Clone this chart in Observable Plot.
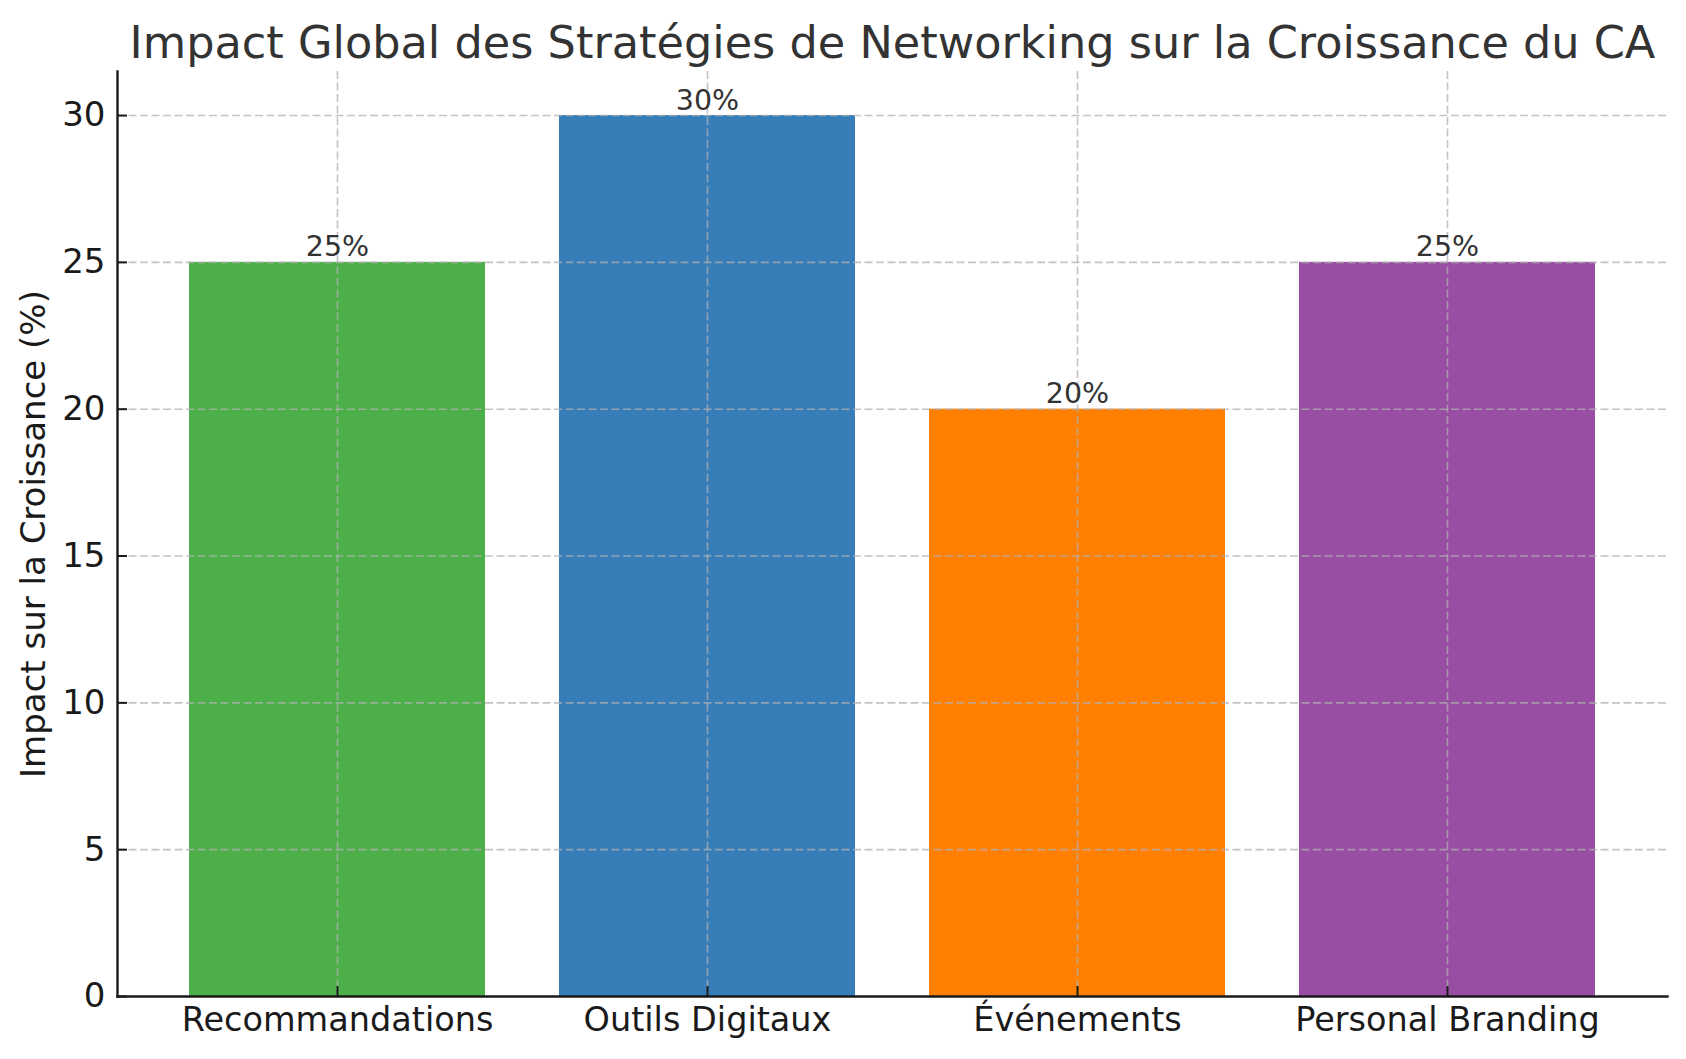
<!DOCTYPE html>
<html>
<head>
<meta charset="utf-8">
<script src="https://cdn.jsdelivr.net/npm/d3@7"></script>
<script src="https://cdn.jsdelivr.net/npm/@observablehq/plot@0.6"></script>
<style>
  html, body { margin: 0; padding: 0; background: #fff; }
  #chart svg { display: block; }
</style>
</head>
<body>
<div id="chart"></div>
<script>
const title = "Impact Global des Stratégies de Networking sur la Croissance du CA";
const yLabel = "Impact sur la Croissance (%)";
const categories = ["Recommandations", "Outils Digitaux", "Événements", "Personal Branding"];
const values = [25, 30, 20, 25];
const colors = ["#4daf4a", "#377eb8", "#ff7f00", "#984ea3"];
const yTicks = [0, 5, 10, 15, 20, 25, 30];

const data = categories.map((c, i) => ({category: c, value: values[i], color: colors[i], label: values[i] + "%"}));

const font = "DejaVu Sans, sans-serif";

const chart = Plot.plot({
  width: 1686,
  height: 1059,
  marginLeft: 117,
  marginRight: 19,
  marginTop: 71,
  marginBottom: 63,
  style: {fontFamily: font, background: "#fff"},
  x: {domain: categories, paddingInner: 0.2, paddingOuter: 0.19, align: 0.5},
  y: {domain: [0, 31.5]},
  color: {type: "identity"},
  marks: [
    Plot.barY(data, {x: "category", y: "value", fill: "color"}),
    Plot.gridX(categories, {stroke: "#b0b0b0", strokeOpacity: 0.75, strokeWidth: 1.6, strokeDasharray: "8,3.5"}),
    Plot.gridY(yTicks.filter(d => d > 0), {stroke: "#b0b0b0", strokeOpacity: 0.75, strokeWidth: 1.6, strokeDasharray: "8,3.5"}),
    Plot.text(data, {x: "category", y: "value", text: "label", lineAnchor: "bottom", dy: -6, fontSize: 28.5, fill: "#333"}),
    Plot.axisY(yTicks, {tickSize: -10, tickPadding: 22, fontSize: 34, color: "#1a1a1a", stroke: "#1a1a1a", strokeWidth: 2, label: null}),
    Plot.axisX(categories, {tickSize: -10, tickPadding: 21, fontSize: 33.5, color: "#1a1a1a", stroke: "#1a1a1a", strokeWidth: 2, label: null}),
    Plot.frame({anchor: "left", stroke: "#1a1a1a", strokeWidth: 2.4}),
    Plot.frame({anchor: "bottom", stroke: "#1a1a1a", strokeWidth: 2.4}),
    Plot.text([title], {frameAnchor: "top", lineAnchor: "bottom", dy: -14, fontSize: 44.6, fill: "#333"}),
    Plot.text([yLabel], {frameAnchor: "left", rotate: -90, dx: -83, textAnchor: "middle", lineAnchor: "middle", fontSize: 34, fill: "#1a1a1a"})
  ]
});
document.getElementById("chart").appendChild(chart);
</script>
</body>
</html>
